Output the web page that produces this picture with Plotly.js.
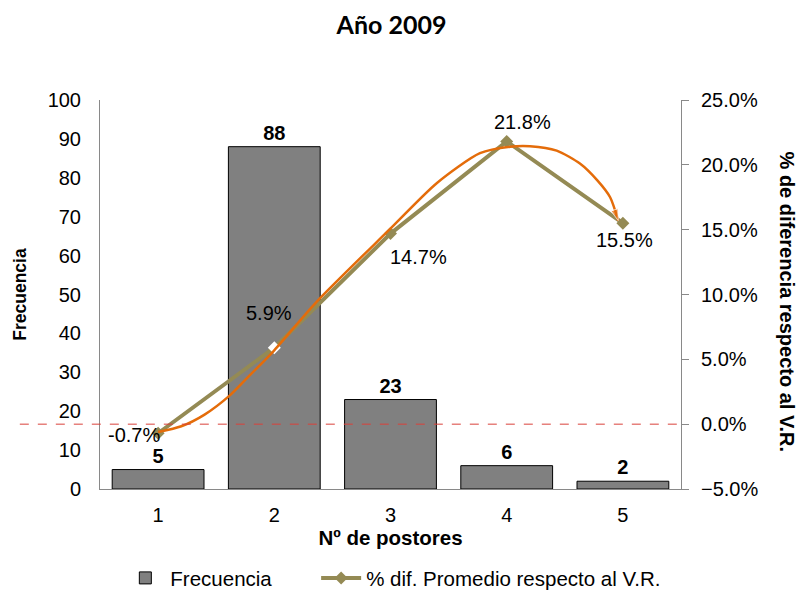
<!DOCTYPE html>
<html>
<head>
<meta charset="utf-8">
<script src="https://cdn.plot.ly/plotly-3.0.1.min.js"></script>
<style>html,body{margin:0;padding:0;background:#fff;}#chart{width:799px;height:592px;}</style>
</head>
<body>
<div id="chart"></div>
<script>
// Data
const categories = [1, 2, 3, 4, 5];
const frecuencia = [5, 88, 23, 6, 2];
const pctDif = [-0.7, 5.9, 14.7, 21.8, 15.5];
const pctLabels = ["-0.7%", "5.9%", "14.7%", "21.8%", "15.5%"];
// hand-drawn orange trend curve
const curveX = [1.0, 1.2, 1.4, 1.62, 1.79, 1.99, 2.36, 2.99, 3.40, 3.77, 4.03, 4.20, 4.43, 4.63, 4.78, 4.89, 4.96];
const curveY = [-0.6, -0.16, 0.74, 2.24, 3.78, 5.6, 9.4, 15.0, 18.6, 20.9, 21.4, 21.44, 21.1, 20.1, 18.8, 17.5, 15.7];

const olive = '#948A54';
const font = 'Liberation Sans, Arial, sans-serif';

const bars = {
  type: 'bar', x: categories, y: frecuencia, name: 'Frecuencia', legend: 'legend',
  marker: {color: '#808080', line: {color: '#000', width: 1}},
  width: 0.79,
  text: frecuencia.map(String), textposition: 'outside',
  textfont: {family: font, size: 20, color: '#000', weight: 'bold'},
  cliponaxis: false, hoverinfo: 'skip'
};
const markerColors = pctDif.map((v, i) => i === 1 ? '#ffffff' : olive);
const line = {
  type: 'scatter', mode: 'lines+markers', x: categories, y: pctDif, yaxis: 'y2',
  name: '% dif. Promedio respecto al V.R.', legend: 'legend2',
  line: {color: olive, width: 4},
  marker: {symbol: 'diamond', size: 10, color: markerColors, line: {width: 0}}
};
const curveSizes = curveX.map((v, i) => i === curveX.length - 1 ? 12 : 0);
const curve = {
  type: 'scatter', mode: 'lines+markers', x: curveX, y: curveY, yaxis: 'y2',
  line: {color: '#E46C0A', width: 2.5, shape: 'spline', smoothing: 0.7},
  marker: {symbol: 'arrow', angleref: 'previous', size: curveSizes, color: '#E46C0A'},
  showlegend: false, hoverinfo: 'skip'
};

// label offsets (pixels) for the % labels
const labOffX = [-24, -5, 28, 16, 2];
const labOffY = [-2, 35, -23, 19, -17];
const annotations = categories.map((c, i) => ({
  x: c, y: pctDif[i], xref: 'x', yref: 'y2', text: pctLabels[i], showarrow: false,
  xshift: labOffX[i], yshift: labOffY[i],
  font: {family: font, size: 20, color: '#000'}
}));
annotations.push({
  xref: 'paper', yref: 'paper', x: 1.182, xanchor: 'center', y: 0.48, yanchor: 'middle',
  textangle: 90, showarrow: false,
  text: '% de diferencia respecto al V.R.',
  font: {family: font, size: 20, color: '#000', weight: 'bold'}
});

const legendFont = {family: font, size: 20.5, color: '#000'};
const layout = {
  width: 799, height: 592,
  margin: {l: 100, r: 118, t: 100, b: 103, autoexpand: false},
  paper_bgcolor: '#fff', plot_bgcolor: '#fff',
  title: {text: 'Año 2009', x: 0.49, xanchor: 'center', y: 0.957, yanchor: 'middle',
    font: {family: 'Lato, Open Sans, sans-serif', size: 25, color: '#000', weight: 'bold'}},
  showlegend: true,
  legend: {orientation: 'h', x: 0.035, xanchor: 'left', y: -0.229, yanchor: 'middle',
    font: legendFont, itemwidth: 40},
  legend2: {orientation: 'h', x: 0.372, xanchor: 'left', y: -0.229, yanchor: 'middle',
    font: legendFont, itemwidth: 40},
  xaxis: {
    range: [0.5, 5.5], tickvals: categories, ticktext: categories.map(String),
    showgrid: false, zeroline: false, showline: true, linecolor: '#898989', linewidth: 1,
    ticks: '', ticklabelstandoff: 8, tickfont: {family: font, size: 20, color: '#000'},
    title: {text: 'Nº de postores', standoff: 2,
      font: {family: font, size: 20.5, color: '#000', weight: 'bold'}}
  },
  yaxis: {
    range: [0, 100], dtick: 10, showgrid: false, zeroline: false,
    showline: true, linecolor: '#898989', linewidth: 1, ticks: '',
    tickfont: {family: font, size: 20, color: '#000'}, ticklabelstandoff: 14,
    title: {text: 'Frecuencia', standoff: 16,
      font: {family: font, size: 17.5, color: '#000', weight: 'bold'}}
  },
  yaxis2: {
    overlaying: 'y', side: 'right', range: [-5, 25], dtick: 5,
    tickformat: '.1f', ticksuffix: '%', showgrid: false, zeroline: false,
    showline: true, linecolor: '#898989', linewidth: 1,
    ticks: 'outside', ticklen: 7, tickcolor: '#898989', ticklabelstandoff: 8,
    tickfont: {family: font, size: 20, color: '#000'}
  },
  shapes: [{
    type: 'line', xref: 'paper', yref: 'y2', x0: -0.138, x1: 1, y0: 0, y1: 0,
    line: {color: '#D9403A', width: 1, dash: 'dash'}, layer: 'above'
  }],
  annotations: annotations
};

Plotly.newPlot('chart', [bars, line, curve], layout, {displayModeBar: false, staticPlot: true});
</script>
</body>
</html>
